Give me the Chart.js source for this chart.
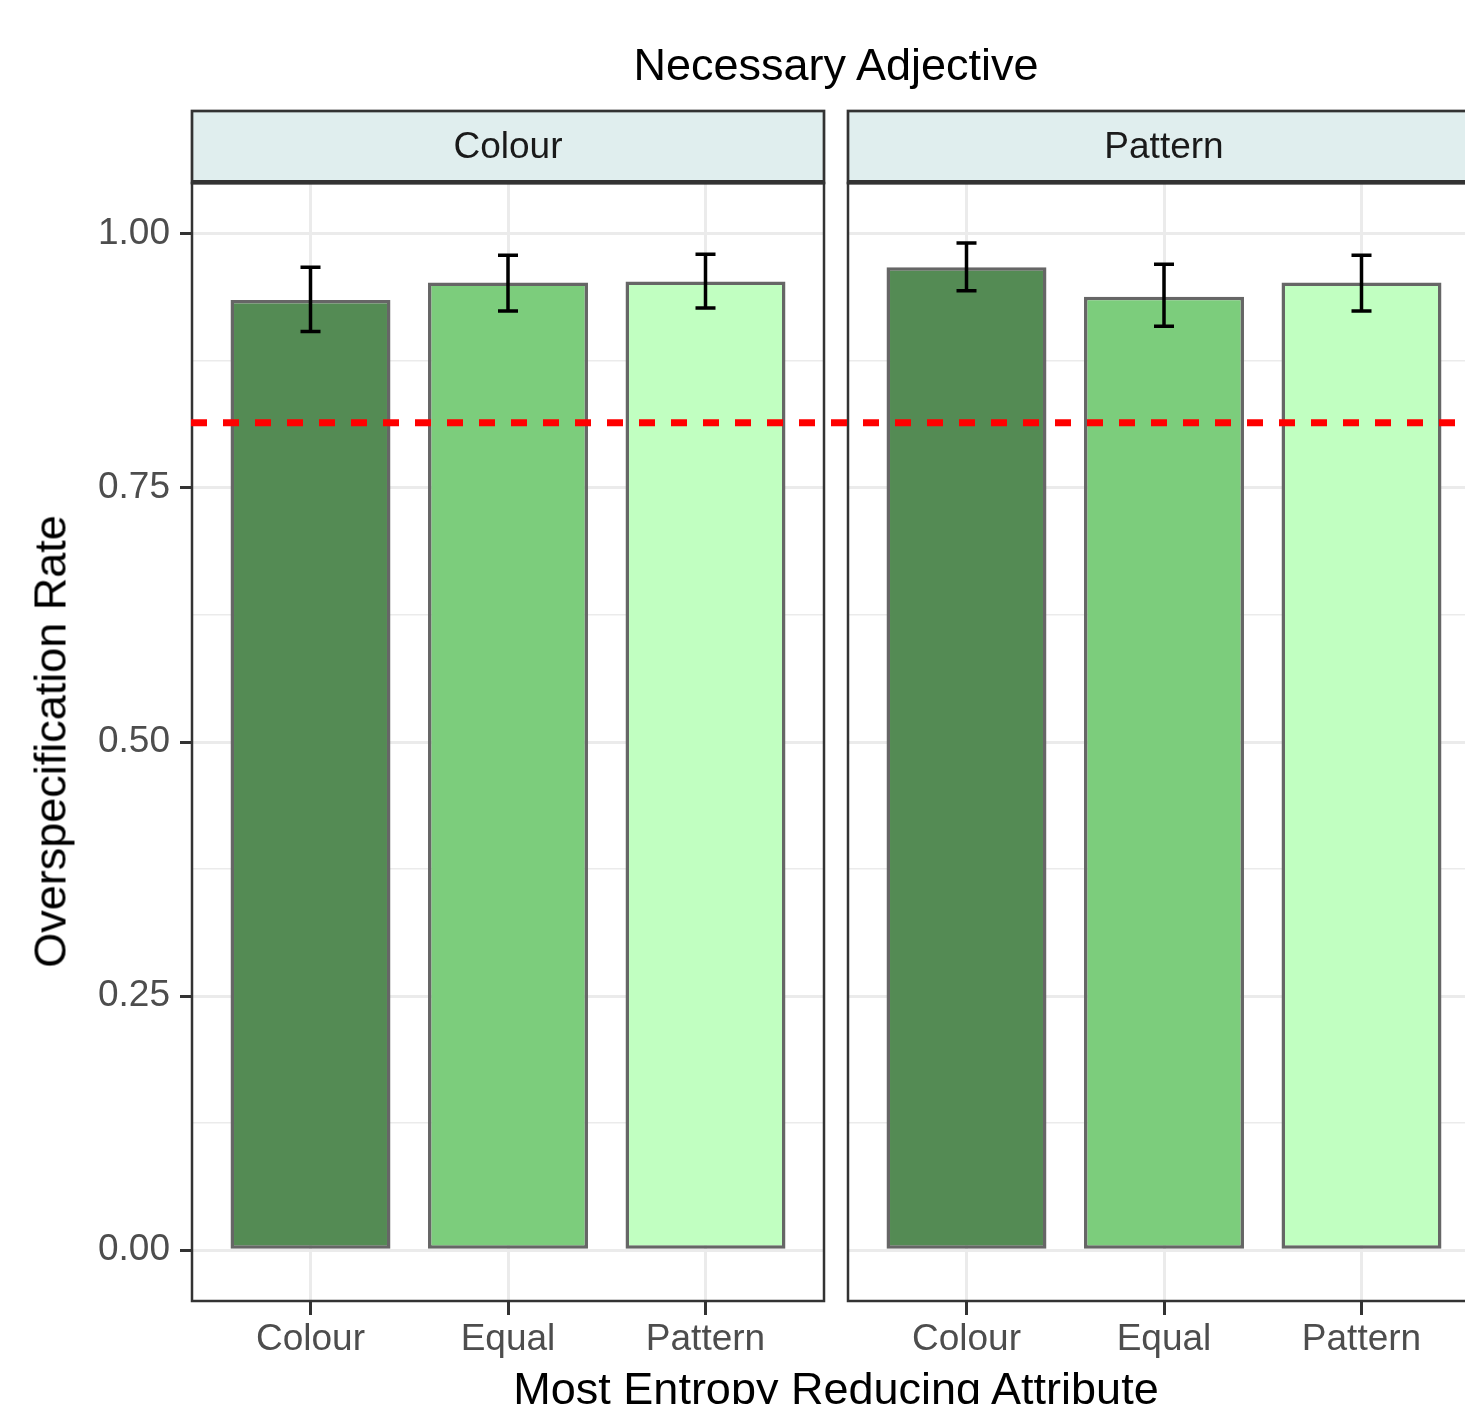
<!DOCTYPE html>
<html>
<head>
<meta charset="utf-8">
<script src="https://cdn.jsdelivr.net/npm/chart.js@4"></script>
<style>
html, body { margin: 0; padding: 0; background: #fff; }
body { width: 1465px; height: 1404px; overflow: hidden; position: relative; font-family: "Liberation Sans", Arial, sans-serif; }
canvas { position: absolute; left: 0; top: 0; }
.txt { position: absolute; white-space: nowrap; color: #000; font-size: 45px; line-height: 45px; text-align: center; }
</style>
</head>
<body>
<canvas id="panelColour" width="1465" height="1404" style="width:1465px;height:1404px"></canvas>
<canvas id="panelPattern" width="1500" height="1404" style="width:1500px;height:1404px"></canvas>
<div class="txt" style="left:436px; width:800px; top:42px;">Necessary Adjective</div>
<div class="txt" style="left:-250px; width:600px; top:719px; transform:rotate(-90deg);">Overspecification Rate</div>
<div class="txt" style="left:336px; width:1000px; top:1366px;">Most Entropy Reducing Attribute</div>
<script>
// Datos
const categorias = ['Colour', 'Equal', 'Pattern'];
const paneles = ['Colour', 'Pattern'];
const tasaColour = [0.935, 0.952, 0.953];
const inferiorColour = [0.904, 0.924, 0.927];
const superiorColour = [0.967, 0.979, 0.980];
const tasaPattern = [0.967, 0.938, 0.952];
const inferiorPattern = [0.944, 0.909, 0.924];
const superiorPattern = [0.991, 0.970, 0.979];
const lineaReferencia = 0.814;
const ticksY = [0, 0.25, 0.5, 0.75, 1];

const coloresBarras = ['#548B54', '#7CCD7C', '#C1FFC1'];
const fuente = '"Liberation Sans", Arial, sans-serif';
Chart.defaults.font.family = fuente;

// ticks mayores + menores (a mitad de camino)
const ticksYCompletos = [];
ticksY.forEach((v, i) => {
    ticksYCompletos.push(v);
    if (i < ticksY.length - 1) ticksYCompletos.push((v + ticksY[i + 1]) / 2);
});
const esMayor = v => ticksY.includes(v);

// Tira del panel, borde y barras de error
function pluginPanel(titulo, inferior, superior) {
    return {
        id: 'panel',
        afterDatasetsDraw(chart) {
            const ctx = chart.ctx;
            const y = chart.scales.y;
            const meta = chart.getDatasetMeta(0);
            ctx.save();
            ctx.strokeStyle = '#000';
            ctx.lineWidth = 3.5;
            meta.data.forEach((bar, i) => {
                const yi = y.getPixelForValue(inferior[i]);
                const ys = y.getPixelForValue(superior[i]);
                ctx.beginPath();
                ctx.moveTo(bar.x, yi); ctx.lineTo(bar.x, ys);
                ctx.moveTo(bar.x - 10, yi); ctx.lineTo(bar.x + 10, yi);
                ctx.moveTo(bar.x - 10, ys); ctx.lineTo(bar.x + 10, ys);
                ctx.stroke();
            });
            ctx.restore();
        },
        afterDraw(chart) {
            const ctx = chart.ctx;
            const a = chart.chartArea;
            ctx.save();
            // borde del panel
            ctx.strokeStyle = '#333333';
            ctx.lineWidth = 2.5;
            ctx.strokeRect(a.left, a.top, a.right - a.left, a.bottom - a.top);
            // tira superior
            ctx.fillStyle = '#E0EEEE';
            ctx.fillRect(a.left, 111, a.right - a.left, a.top - 111);
            ctx.lineWidth = 2.7;
            ctx.strokeRect(a.left, 111, a.right - a.left, a.top - 111);
            ctx.lineWidth = 4.3;
            ctx.beginPath();
            ctx.moveTo(a.left - 1, a.top - 0.8); ctx.lineTo(a.right + 1, a.top - 0.8);
            ctx.stroke();
            ctx.fillStyle = '#1A1A1A';
            ctx.font = '37px ' + fuente;
            ctx.textAlign = 'center';
            ctx.textBaseline = 'middle';
            ctx.fillText(titulo, (a.left + a.right) / 2, 148);
            ctx.restore();
        }
    };
}

// Línea roja discontinua a lo largo de ambos paneles
const pluginReferencia = {
    id: 'referencia',
    afterDraw(chart) {
        const ctx = chart.ctx;
        const yp = chart.scales.y.getPixelForValue(lineaReferencia);
        ctx.save();
        ctx.strokeStyle = '#FF0000';
        ctx.lineWidth = 7;
        ctx.setLineDash([16, 16]);
        ctx.beginPath();
        ctx.moveTo(191, yp);
        ctx.lineTo(chart.chartArea.right, yp);
        ctx.stroke();
        ctx.restore();
    }
};

function crearPanel(id, titulo, tasas, inferior, superior, padIzq, padDer, conEjeY, extras) {
    return new Chart(document.getElementById(id), {
        type: 'bar',
        data: {
            datasets: [{
                data: tasas.map((t, i) => ({ x: i + 1, y: t })),
                backgroundColor: coloresBarras,
                borderColor: '#666666',
                borderWidth: 3.5,
                borderSkipped: false,
                barPercentage: 1,
                categoryPercentage: 0.81
            }]
        },
        options: {
            responsive: false,
            animation: false,
            devicePixelRatio: 1,
            layout: { padding: { left: padIzq, right: padDer, top: 183, bottom: 0 } },
            plugins: { legend: { display: false }, tooltip: { enabled: false } },
            scales: {
                x: {
                    type: 'linear', min: 0.4, max: 3.6, offset: false,
                    afterBuildTicks: s => { s.ticks = categorias.map((c, i) => ({ value: i + 1 })); },
                    afterFit: s => { s.height = 103; },
                    ticks: { callback: v => categorias[v - 1], font: { size: 37 }, color: '#4D4D4D', padding: 3, maxRotation: 0, autoSkip: false },
                    grid: { offset: false, color: '#EBEBEB', lineWidth: 3, tickLength: 14, tickColor: '#333333', tickWidth: 3 },
                    border: { display: false }
                },
                y: {
                    min: -0.05, max: 1.05,
                    afterBuildTicks: s => { s.ticks = ticksYCompletos.map(v => ({ value: v })); },
                    afterFit: s => { s.width = conEjeY ? 192 : 0; },
                    ticks: { display: conEjeY, callback: v => esMayor(v) ? v.toFixed(2) : '', font: { size: 37 }, color: '#4D4D4D', padding: 10 },
                    grid: {
                        color: '#EBEBEB',
                        lineWidth: c => esMayor(c.tick.value) ? 3 : 1.5,
                        drawTicks: conEjeY,
                        tickLength: 12,
                        tickColor: c => esMayor(c.tick.value) ? '#333333' : 'rgba(0,0,0,0)',
                        tickWidth: 3
                    },
                    border: { display: false }
                }
            }
        },
        plugins: [pluginPanel(titulo, inferior, superior)].concat(extras)
    });
}

crearPanel('panelColour', paneles[0], tasaColour, inferiorColour, superiorColour, 0, 641, true, []);
crearPanel('panelPattern', paneles[1], tasaPattern, inferiorPattern, superiorPattern, 848, 20, false, [pluginReferencia]);
</script>
</body>
</html>
